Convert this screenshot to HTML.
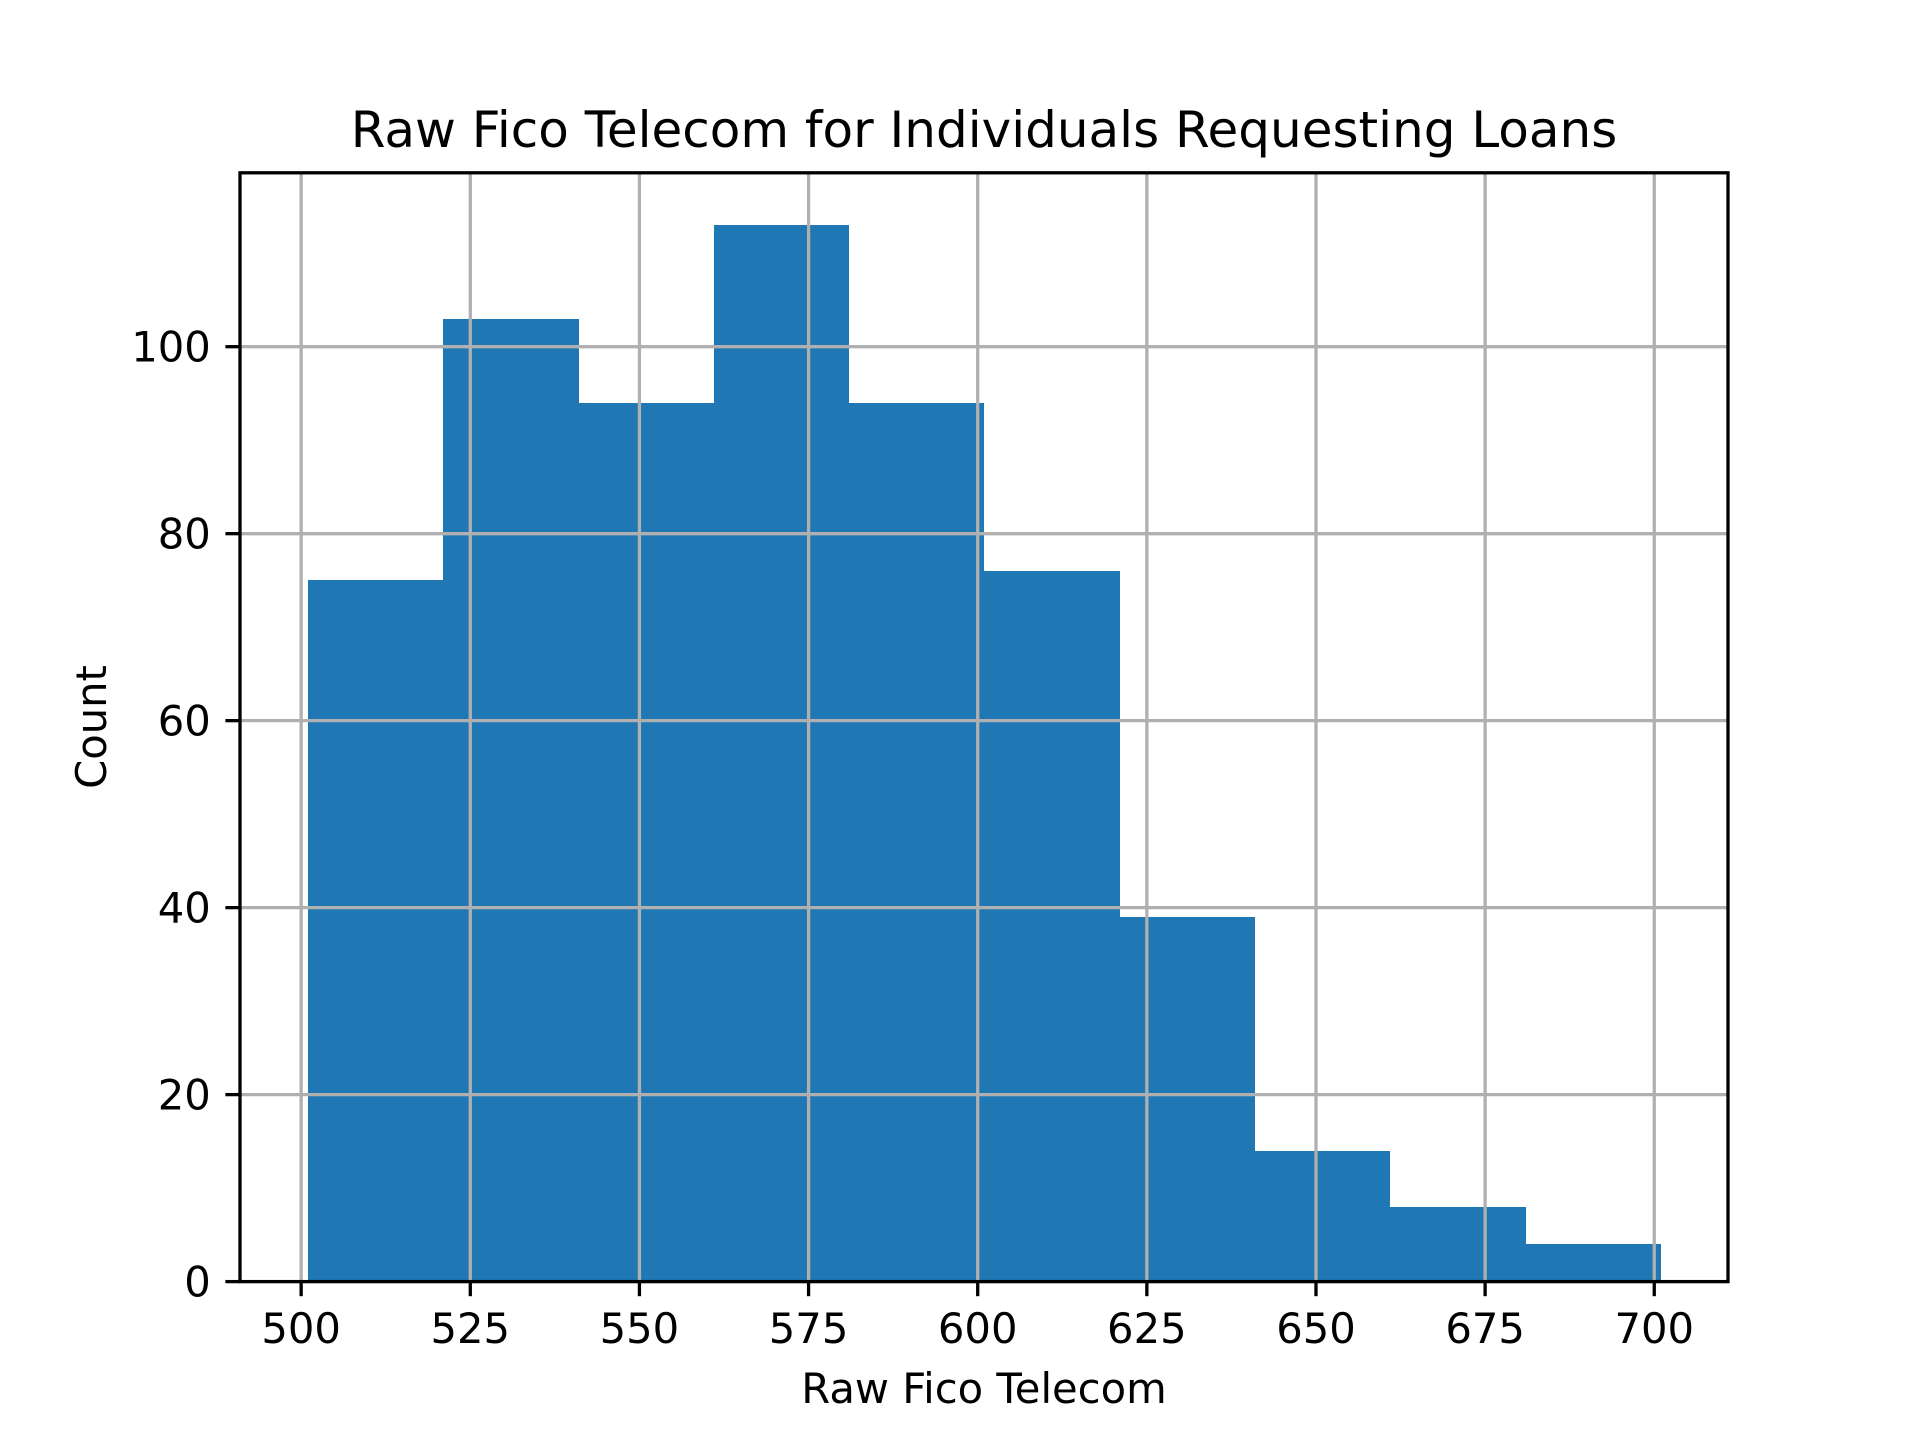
<!DOCTYPE html>
<html><head><meta charset="utf-8"><style>body{margin:0;background:#fff}svg{display:block}text{font-family:"DejaVu Sans","Liberation Sans",sans-serif;fill:#000}</style></head>
<body>
<svg id="chart" width="1920" height="1440" viewBox="0 0 1920 1440" xmlns="http://www.w3.org/2000/svg">
<rect width="1920" height="1440" fill="#fff"/>
<g id="bars" shape-rendering="crispEdges"></g>
<g id="grid"></g>
<g id="axes"></g>
<text x="984" y="147" font-size="50" text-anchor="middle">Raw Fico Telecom for Individuals Requesting Loans</text>
<text x="984" y="1403" font-size="41.7" text-anchor="middle">Raw Fico Telecom</text>
<text transform="translate(106,727) rotate(-90)" font-size="41.7" text-anchor="middle">Count</text>
</svg>
<script>
const binEdges = [501,521,541,561,581,601,621,641,661,681,701];
const counts = [75,103,94,113,94,76,39,14,8,4];
const xTicks = [500,525,550,575,600,625,650,675,700];
const yTicks = [0,20,40,60,80,100];
const L=240,R=1728,T=172.8,B=1281.6,xMin=490.96,xMax=710.9,yMax=118.6;
const NS='http://www.w3.org/2000/svg';
const sx=v=>L+(v-xMin)/(xMax-xMin)*(R-L);
const sy=v=>B-v/yMax*(B-T);
function mk(tag,attrs,parent){const e=document.createElementNS(NS,tag);for(const k in attrs)e.setAttribute(k,attrs[k]);parent.appendChild(e);return e;}
const bars=document.getElementById('bars'),grid=document.getElementById('grid'),axes=document.getElementById('axes');
counts.forEach((c,i)=>{
  const x0=Math.round(sx(binEdges[i])),x1=Math.round(sx(binEdges[i+1])),y0=Math.round(sy(c));
  const r=mk('rect',{x:x0,y:y0,width:x1-x0,height:B-y0,fill:'#1f77b4'},bars);
  
  
});
xTicks.forEach(t=>{
  const x=sx(t);
  const g=mk('line',{x1:x,x2:x,y1:T,y2:B,stroke:'#b0b0b0','stroke-width':3.3},grid);
  
  
  const tk=mk('line',{x1:x,x2:x,y1:B,y2:B+14.6,stroke:'#000','stroke-width':3.3},axes);
  
  
  const tx=mk('text',{x:x,y:B+14.6+14.6+32,'font-size':41.7,'text-anchor':'middle'},axes);
  tx.textContent=t;
  
  
});
yTicks.forEach(t=>{
  const y=sy(t);
  const g=mk('line',{x1:L,x2:R,y1:y,y2:y,stroke:'#b0b0b0','stroke-width':3.3},grid);
  
  
  const tk=mk('line',{x1:L-14.6,x2:L,y1:y,y2:y,stroke:'#000','stroke-width':3.3},axes);
  
  
  const tx=mk('text',{x:L-14.6-14.6,y:y+15,'font-size':41.7,'text-anchor':'end'},axes);
  tx.textContent=t;
  
  
});
const f=mk('rect',{x:L,y:T,width:R-L,height:B-T,fill:'none',stroke:'#000','stroke-width':3.3},axes);


</script>
</body></html>
